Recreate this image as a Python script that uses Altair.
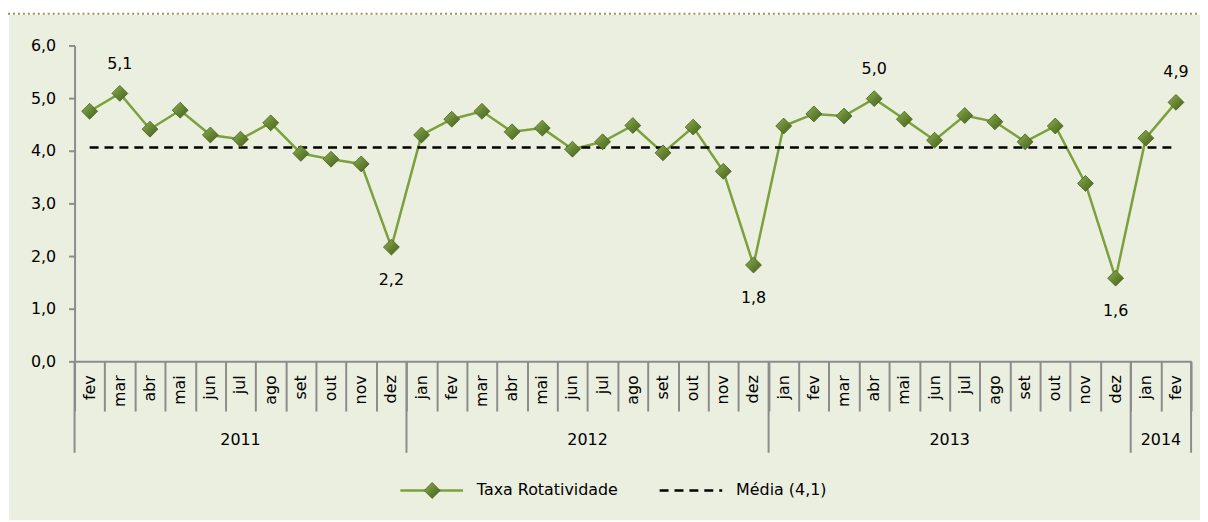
import altair as alt
import pandas as pd

# ---------------- data ----------------
MESES = ["fev", "mar", "abr", "mai", "jun", "jul", "ago", "set", "out", "nov", "dez",
         "jan", "fev", "mar", "abr", "mai", "jun", "jul", "ago", "set", "out", "nov", "dez",
         "jan", "fev", "mar", "abr", "mai", "jun", "jul", "ago", "set", "out", "nov", "dez",
         "jan", "fev"]
ANO_DO_MES = ["2011"] * 11 + ["2012"] * 12 + ["2013"] * 12 + ["2014"] * 2
TAXA = [4.75, 5.09, 4.41, 4.77, 4.30, 4.22, 4.53, 3.95, 3.84, 3.75, 2.17,
        4.30, 4.60, 4.75, 4.36, 4.43, 4.03, 4.17, 4.48, 3.96, 4.45, 3.61, 1.83,
        4.47, 4.70, 4.66, 4.99, 4.60, 4.20, 4.67, 4.55, 4.17, 4.47, 3.38, 1.58,
        4.24, 4.92]
MEDIA = 4.06
ANOS = ["2011", "2012", "2013", "2014"]
ROTULO_ACIMA = [1, 26, 36]
ROTULO_ABAIXO = [10, 22, 34]
LEGENDA = ["Taxa Rotatividade", "Média (4,1)"]
Y_TICKS = [0, 1, 2, 3, 4, 5, 6]

# ---------------- styling ----------------
W, H = 1124, 318
PANEL = "#EBEFDF"
GREEN = "#7BA03C"
GREY = "#8C8C8C"
FONT = "DejaVu Sans"
FS = 16

n = len(TAXA)
df = pd.DataFrame({"idx": list(range(n)), "mes": MESES, "ano": ANO_DO_MES,
                   "taxa": TAXA, "media": [MEDIA] * n})

# year groups
anos_rows = []
bounds_year = []
for a in ANOS:
    ids = [i for i, y in enumerate(ANO_DO_MES) if y == a]
    anos_rows.append({"ano": a, "centro": (ids[0] + ids[-1]) / 2})
    bounds_year.append(ids[0] - 0.5)
bounds_year.append(n - 0.5)
anos_df = pd.DataFrame(anos_rows)
sep_df = pd.DataFrame({"b": bounds_year})
one = pd.DataFrame({"k": [0]})

xscale = alt.Scale(domain=[-0.5, n - 0.5], nice=False, zero=False)
xaxis = alt.Axis(values=[i - 0.5 for i in range(n + 1)], tickSize=50, tickWidth=2,
                 tickColor=GREY, domainColor=GREY, domainWidth=2, labels=False,
                 grid=False, title=None, zindex=1)
yaxis = alt.Axis(values=Y_TICKS, tickSize=6, tickWidth=2, tickColor=GREY,
                 domainColor=GREY, domainWidth=2, grid=False, title=None,
                 labelExpr="replace(format(datum.value, '.1f'), '.', ',')",
                 labelFontSize=FS, labelColor="#000000", labelPadding=13, zindex=1)
X = alt.X("idx:Q", scale=xscale, axis=xaxis)
yscale = alt.Scale(domain=[0, 6], nice=False)

base = alt.Chart(df)

panel = alt.Chart(one).mark_rect(color=PANEL).encode(
    x=alt.value(-66), x2=alt.value(W + 9), y=alt.value(-31), y2=alt.value(H + 160))
dotted = alt.Chart(one).mark_rule(color="#9D9258", strokeDash=[2, 3], strokeWidth=2).encode(
    x=alt.value(-67), x2=alt.value(W + 9), y=alt.value(-32))

line = base.mark_line(color=GREEN, strokeWidth=2.5).encode(
    x=X, y=alt.Y("taxa:Q", scale=yscale, axis=yaxis))
media = base.mark_line(color="#000000", strokeWidth=2.5, strokeDash=[9, 6]).encode(
    x=X, y=alt.Y("media:Q", scale=yscale, axis=yaxis))

grad = alt.Gradient(gradient="linear", x1=0, y1=0, x2=1, y2=1,
                    stops=[alt.GradientStop(color="#93AF58", offset=0),
                           alt.GradientStop(color="#668632", offset=0.5),
                           alt.GradientStop(color="#46601E", offset=1)])
pts = base.mark_point(shape="diamond", filled=True, size=256, fill=grad,
                      stroke="#46601E", strokeWidth=0.8, opacity=1).encode(
    x=X, y=alt.Y("taxa:Q", scale=yscale, axis=yaxis))

fmt = "replace(format(datum.taxa, '.1f'), '.', ',')"
lab_up = base.transform_filter(
    alt.FieldOneOfPredicate(field="idx", oneOf=ROTULO_ACIMA)
).transform_calculate(rot=fmt).mark_text(
    fontSize=FS, font=FONT, color="#000000", dy=-30, baseline="middle").encode(
    x=X, y=alt.Y("taxa:Q", scale=yscale, axis=yaxis), text="rot:N")
lab_dn = base.transform_filter(
    alt.FieldOneOfPredicate(field="idx", oneOf=ROTULO_ABAIXO)
).transform_calculate(rot=fmt).mark_text(
    fontSize=FS, font=FONT, color="#000000", dy=33, baseline="middle").encode(
    x=X, y=alt.Y("taxa:Q", scale=yscale, axis=yaxis), text="rot:N")

mes_txt = base.mark_text(angle=270, align="right", baseline="middle", fontSize=FS,
                         font=FONT, color="#000000").encode(
    x=X, y=alt.value(H + 14), text="mes:N")

sep = alt.Chart(sep_df).mark_rule(color=GREY, strokeWidth=2).encode(
    x=alt.X("b:Q", scale=xscale, axis=xaxis), y=alt.value(H), y2=alt.value(H + 92))
ano_txt = alt.Chart(anos_df).mark_text(fontSize=FS, font=FONT, color="#000000",
                                       baseline="middle").encode(
    x=alt.X("centro:Q", scale=xscale, axis=xaxis), y=alt.value(H + 79), text="ano:N")

LY = H + 130
leg1_line = alt.Chart(one).mark_rule(color=GREEN, strokeWidth=2.5).encode(
    x=alt.value(328), x2=alt.value(391), y=alt.value(LY))
leg1_pt = alt.Chart(one).mark_point(shape="diamond", filled=True, size=256, fill=grad,
                                    stroke="#46601E", strokeWidth=0.8, opacity=1).encode(
    x=alt.value(360), y=alt.value(LY))
leg1_txt = alt.Chart(one).mark_text(text=LEGENDA[0], align="left", baseline="middle",
                                    fontSize=FS, font=FONT, color="#000000").encode(
    x=alt.value(405), y=alt.value(LY))
leg2_line = alt.Chart(one).mark_rule(color="#000000", strokeWidth=2.5, strokeDash=[9, 6]).encode(
    x=alt.value(589), x2=alt.value(652), y=alt.value(LY))
leg2_txt = alt.Chart(one).mark_text(text=LEGENDA[1], align="left", baseline="middle",
                                    fontSize=FS, font=FONT, color="#000000").encode(
    x=alt.value(666), y=alt.value(LY))

chart = alt.layer(
    panel, dotted, line, media, pts, lab_up, lab_dn, mes_txt, sep, ano_txt,
    leg1_line, leg1_pt, leg1_txt, leg2_line, leg2_txt
).properties(
    width=W, height=H,
    autosize=alt.AutoSizeParams(type="none"),
    padding={"left": 67, "top": 36, "right": 9, "bottom": 160},
    background="#FFFFFF",
).configure_view(stroke=None).configure(font=FONT)

chart.save("out.html", embed_options={"renderer": "svg", "actions": False})
